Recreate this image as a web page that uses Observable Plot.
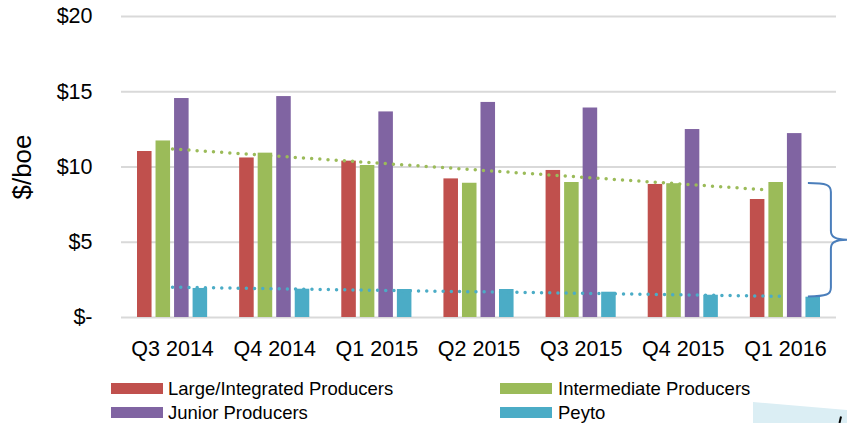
<!DOCTYPE html>
<html>
<head>
<meta charset="utf-8">
<script src="https://cdn.jsdelivr.net/npm/d3@7"></script>
<script src="https://cdn.jsdelivr.net/npm/@observablehq/plot@0.6"></script>
<style>
  html, body { margin: 0; padding: 0; background: #fff; }
  #wrap { position: relative; width: 847px; height: 423px; overflow: hidden; font-family: "Liberation Sans", Arial, sans-serif; }
  #chart { position: absolute; left: 0; top: 0; }
  .sw { position: absolute; width: 52px; height: 11px; }
  .lt { position: absolute; font-size: 18.5px; line-height: 1; color: #000; white-space: nowrap; }
  #deco { position: absolute; left: 0; top: 0; }
</style>
</head>
<body>
<div id="wrap">
  <svg id="deco" width="847" height="423">
    <polygon points="753,402 847,410 847,423 753,423" fill="#dbeef4"></polygon>
    <line x1="839.5" y1="423" x2="841" y2="416.5" stroke="#000" stroke-width="2"></line>
  </svg>
  <div id="chart"></div>
  <div id="legend"></div>
</div>
<script>
const quarters = ["Q3 2014", "Q4 2014", "Q1 2015", "Q2 2015", "Q3 2015", "Q4 2015", "Q1 2016"];
const seriesNames = ["Large/Integrated Producers", "Intermediate Producers", "Junior Producers", "Peyto"];
const seriesColors = ["#c0504d", "#9bbb59", "#8064a2", "#4bacc6"];
const large = [11.03, 10.60, 10.39, 9.21, 9.77, 8.84, 7.84];
const intermediate = [11.73, 10.92, 10.10, 8.92, 8.97, 8.89, 8.97];
const junior = [14.55, 14.68, 13.66, 14.29, 13.92, 12.49, 12.22];
const peyto = [1.93, 1.88, 1.86, 1.86, 1.68, 1.48, 1.35];
const yTicks = [0, 5, 10, 15, 20];
// dotted trend lines (quarter index, value)
const intermediateTrendX = [0, 5.79];
const intermediateTrendY = [11.2, 8.49];
const peytoTrendX = [0, 5.96];
const peytoTrendY = [2.01, 1.41];
// brace annotation range ($/boe)
const braceRange = [8.9, 1.37];

const seriesValues = [large, intermediate, junior, peyto];
const bars = [];
seriesValues.forEach((vals, s) => vals.forEach((v, q) => bars.push({q, s, name: seriesNames[s], value: v})));
const step = 0.1814, half = 0.0712;

const trendGreen = intermediateTrendX.map((x, i) => ({x, y: intermediateTrendY[i]}));
const trendBlue = peytoTrendX.map((x, i) => ({x, y: peytoTrendY[i]}));

function braceMark(index, scales) {
  const x = scales.x, y = scales.y;
  const x0 = x(6.225), x1 = x(6.45), x2 = x(6.61);
  const yt = y(braceRange[0]), yb = y(braceRange[1]), ym = (yt + yb) / 2;
  const r = 9;
  const d = `M${x0},${yt} C${x1 - 4},${yt} ${x1},${yt + 2} ${x1},${yt + r} L${x1},${ym - r} C${x1},${ym - 3} ${x1 + 4},${ym} ${x2},${ym} C${x1 + 4},${ym} ${x1},${ym + 3} ${x1},${ym + r} L${x1},${yb - r} C${x1},${yb - 2} ${x1 - 4},${yb} ${x0},${yb}`;
  const p = document.createElementNS("http://www.w3.org/2000/svg", "path");
  p.setAttribute("d", d);
  p.setAttribute("fill", "none");
  p.setAttribute("stroke", "#4a7ebb");
  p.setAttribute("stroke-width", "2");
  return p;
}

const chart = Plot.plot({
  width: 847,
  height: 372,
  marginTop: 16,
  marginBottom: 55,
  marginLeft: 121,
  marginRight: 11,
  style: {fontFamily: '"Liberation Sans", Arial, sans-serif', fontSize: "21.5px", color: "#000", background: "transparent", overflow: "visible"},
  x: {domain: [-0.5, 6.5], ticks: d3.range(quarters.length), tickFormat: i => quarters[i], tickSize: 0, tickPadding: 23, label: null},
  y: {domain: [0, 20], ticks: yTicks, tickFormat: d => d === 0 ? "$-" : "$" + d, tickSize: 0, tickPadding: 29, label: null},
  color: {domain: seriesNames, range: seriesColors},
  marks: [
    Plot.ruleY(yTicks, {stroke: "#d9d9d9", strokeWidth: 2}),
    Plot.rect(bars, {
      x1: d => d.q + (d.s - 1.5) * step - half,
      x2: d => d.q + (d.s - 1.5) * step + half,
      y1: 0,
      y2: "value",
      fill: "name"
    }),
    Plot.line(trendGreen, {x: "x", y: "y", stroke: "#9bbb59", strokeWidth: 3.5, strokeDasharray: "0 8.2", strokeLinecap: "round"}),
    Plot.line(trendBlue, {x: "x", y: "y", stroke: "#4bacc6", strokeWidth: 3.5, strokeDasharray: "0 8.2", strokeLinecap: "round"}),
    braceMark,
    Plot.text(["$/boe"], {frameAnchor: "left", textAnchor: "middle", lineAnchor: "middle", rotate: -90, dx: -99, fontSize: 26, fill: "#000"})
  ]
});
document.getElementById("chart").appendChild(chart);

// legend (HTML, below the plot)
const legend = document.getElementById("legend");
const legendPos = [
  {sx: 111, tx: 168, sy: 383, ty: 379.5},
  {sx: 500, tx: 558, sy: 383, ty: 379.5},
  {sx: 111, tx: 168, sy: 407, ty: 403.5},
  {sx: 500, tx: 558, sy: 407, ty: 403.5}
];
const legendOrder = [0, 1, 2, 3];
legendOrder.forEach((s, i) => {
  const p = legendPos[i];
  const sw = document.createElement("div");
  sw.className = "sw";
  sw.style.left = p.sx + "px"; sw.style.top = p.sy + "px";
  sw.style.background = seriesColors[s];
  legend.appendChild(sw);
  const t = document.createElement("div");
  t.className = "lt";
  t.style.left = p.tx + "px"; t.style.top = p.ty + "px";
  t.textContent = seriesNames[s];
  legend.appendChild(t);
});
</script>
</body>
</html>
